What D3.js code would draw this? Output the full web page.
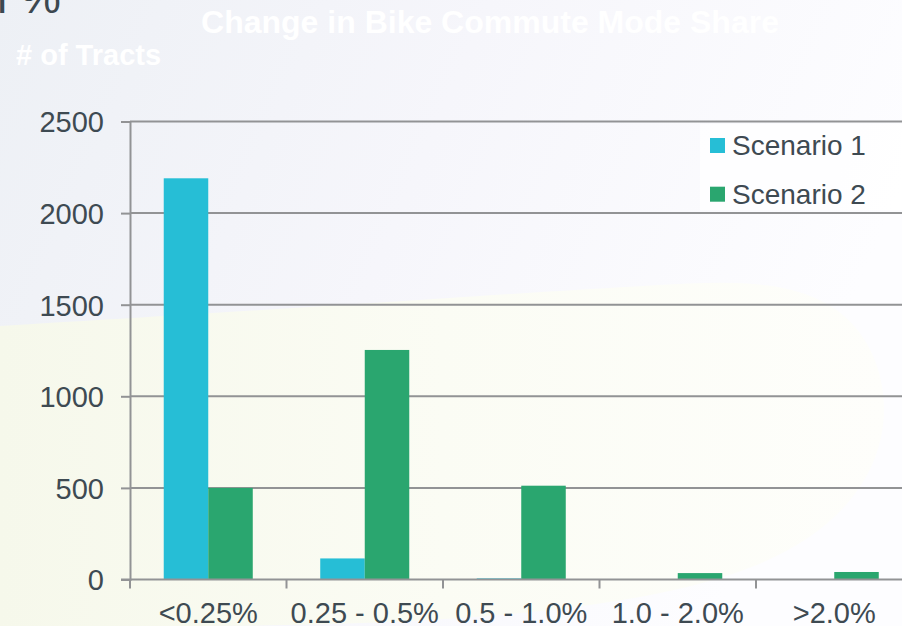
<!DOCTYPE html>
<html>
<head>
<meta charset="utf-8">
<script src="https://cdn.jsdelivr.net/npm/d3@7/dist/d3.min.js"></script>
<style>
  html, body { margin: 0; padding: 0; overflow: hidden; background: #f7f7fa; }
  svg { display: block; font-family: "Liberation Sans", Arial, sans-serif; }
</style>
</head>
<body>
<svg id="chart" width="902" height="626"></svg>
<script>
// Number of census tracts by change in bike commute mode share
const categories = ["<0.25%", "0.25 - 0.5%", "0.5 - 1.0%", "1.0 - 2.0%", ">2.0%"];
const seriesNames = ["Scenario 1", "Scenario 2"];
const scenario1 = [2190, 115, 6, 0, 0];
const scenario2 = [500, 1253, 512, 35, 41];
const yTicks = [0, 500, 1000, 1500, 2000, 2500];
const colors = ["#26bed6", "#2aa66f"];

const svg = d3.select("#chart");
const W = 902, H = 626;

// slide-style backdrop: pale lavender sky over a soft cream band
const defs = svg.append("defs");
const sky = defs.append("linearGradient").attr("id", "sky")
  .attr("x1", "0").attr("y1", "0").attr("x2", "1").attr("y2", "0.3");
sky.append("stop").attr("offset", "0").attr("stop-color", "#edf0f5");
sky.append("stop").attr("offset", "0.5").attr("stop-color", "#f6f6fb");
sky.append("stop").attr("offset", "1").attr("stop-color", "#fdfdff");
const field = defs.append("linearGradient").attr("id", "field")
  .attr("x1", "0").attr("y1", "0").attr("x2", "1").attr("y2", "0");
field.append("stop").attr("offset", "0").attr("stop-color", "#f6f8eb");
field.append("stop").attr("offset", "0.5").attr("stop-color", "#fbfcf4");
field.append("stop").attr("offset", "1").attr("stop-color", "#fefefb");

svg.append("rect").attr("width", W).attr("height", H).attr("fill", "url(#sky)");
svg.append("path")
  .attr("d", d3.line().curve(d3.curveBasis)([[0, 326], [200, 314], [450, 298], [650, 285], [902, 272], [902, 626], [0, 626]]))
  .attr("fill", "url(#field)");
svg.append("rect").attr("x", 700).attr("y", 124).attr("width", 202).attr("height", 86)
  .attr("fill", "#ffffff").attr("opacity", 0.7);

// header texts
svg.append("text").attr("x", -3).attr("y", 13)
  .attr("font-size", 46).attr("fill", "#3c4850").text("l %");
svg.append("text").attr("x", 490).attr("y", 33).attr("text-anchor", "middle")
  .attr("font-size", 32).attr("font-weight", "bold").attr("fill", "#ffffff").text("Change in Bike Commute Mode Share");
svg.append("text").attr("x", 16).attr("y", 65)
  .attr("font-size", 29).attr("font-weight", "bold").attr("fill", "#ffffff").text("# of Tracts");

// scales
const x0 = d3.scaleBand().domain(categories).range([130, 912.5]).padding(0);
const x1 = d3.scaleBand().domain(seriesNames).range([0, x0.bandwidth()]).paddingInner(0).paddingOuter(0.758);
const y = d3.scaleLinear().domain([0, 2500]).range([579.5, 121.5]);

const gridColor = "#929395";
const textColor = "#3e4a52";

// horizontal gridlines
svg.append("g").selectAll("line").data(yTicks.filter(d => d > 0)).join("line")
  .attr("x1", 130).attr("x2", W).attr("y1", d => y(d)).attr("y2", d => y(d))
  .attr("stroke", gridColor).attr("stroke-width", 2);

// bars
const series = [scenario1, scenario2];
const groups = svg.append("g").selectAll("g").data(categories).join("g")
  .attr("transform", d => `translate(${x0(d)},0)`);
groups.selectAll("rect")
  .data((c, i) => seriesNames.map((s, k) => ({ s, v: series[k][i], k })))
  .join("rect")
  .attr("x", d => x1(d.s))
  .attr("width", x1.bandwidth())
  .attr("y", d => y(d.v))
  .attr("height", d => y(0) - y(d.v))
  .attr("fill", d => colors[d.k]);

// y axis
const yAxis = svg.append("g").attr("transform", "translate(130,0)")
  .call(d3.axisLeft(y).tickValues(yTicks).tickSize(9).tickPadding(17).tickFormat(d3.format("d")));
yAxis.select(".domain").attr("stroke", gridColor).attr("stroke-width", 2);
yAxis.selectAll(".tick line").attr("stroke", gridColor).attr("stroke-width", 2);
yAxis.selectAll(".tick text").attr("font-size", 29).attr("fill", textColor)
  .attr("font-family", "Liberation Sans, Arial, sans-serif").attr("dy", "0.36em");

// x axis
const xAxis = svg.append("g").attr("transform", `translate(0,${y(0)})`)
  .call(d3.axisBottom(x0).tickSize(0).tickPadding(23));
xAxis.select(".domain").remove();
xAxis.append("line").attr("x1", 121).attr("x2", W).attr("y1", 0).attr("y2", 0)
  .attr("stroke", gridColor).attr("stroke-width", 2);
xAxis.selectAll(".tick text").attr("font-size", 29).attr("fill", textColor)
  .attr("font-family", "Liberation Sans, Arial, sans-serif");
// category boundary ticks
xAxis.append("g").selectAll("line").data(categories).join("line")
  .attr("x1", d => x0(d)).attr("x2", d => x0(d)).attr("y1", 0).attr("y2", 9)
  .attr("stroke", gridColor).attr("stroke-width", 2);

// legend
const legend = svg.append("g").selectAll("g").data(seriesNames).join("g")
  .attr("transform", (d, i) => `translate(710,${138 + i * 48.7})`);
legend.append("rect").attr("width", 15).attr("height", 15).attr("fill", (d, i) => colors[i]);
legend.append("text").attr("x", 22).attr("y", 17).attr("font-size", 28).attr("fill", textColor).text(d => d);
</script>
</body>
</html>
